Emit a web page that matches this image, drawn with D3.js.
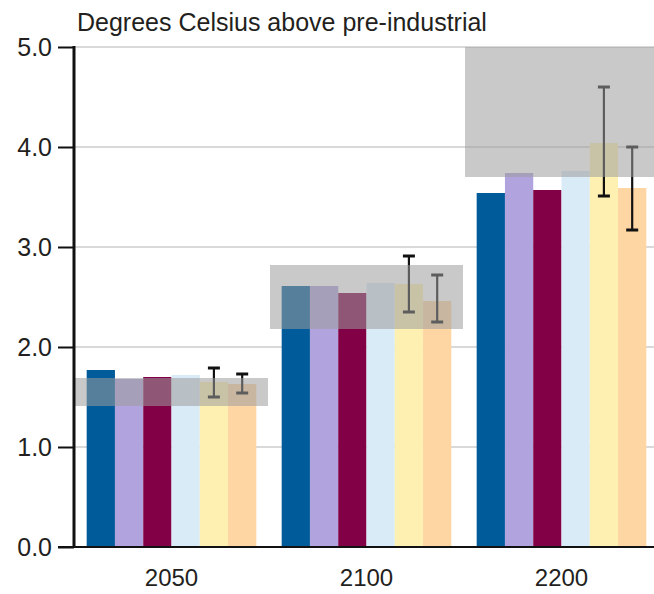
<!DOCTYPE html>
<html>
<head>
<meta charset="utf-8">
<script src="https://cdn.jsdelivr.net/npm/d3@7"></script>
<style>
  body { margin: 0; background: #fff; }
  svg text { font-family: "Liberation Sans", Arial, sans-serif; fill: #231f20; }
</style>
</head>
<body>
<div id="chart"></div>
<script>
// Data
const years = ["2050", "2100", "2200"];
const seriesKeys = ["s1", "s2", "s3", "s4", "s5", "s6"];
const s1 = [1.77, 2.61, 3.54];
const s2 = [1.68, 2.61, 3.74];
const s3 = [1.70, 2.54, 3.57];
const s4 = [1.72, 2.64, 3.76];
const s5 = [1.65, 2.63, 4.04];
const s6 = [1.63, 2.46, 3.59];
const s5Low = [1.50, 2.35, 3.51];
const s5High = [1.79, 2.91, 4.60];
const s6Low = [1.54, 2.25, 3.17];
const s6High = [1.73, 2.72, 4.00];
const rangeLow = [1.41, 2.18, 3.70];
const rangeHigh = [1.69, 2.82, 5.00];
const yTicks = [0, 1, 2, 3, 4, 5];

const colors = {
    s1: "#005b9a", s2: "#b1a3de", s3: "#820046",
    s4: "#d9ebf7", s5: "#fdf0b1", s6: "#fdd6a4"
};

const W = 654, H = 594;
const margin = { top: 47, right: -5, bottom: 47, left: 74 };
const height = H - margin.top - margin.bottom;
const fontSize = "25px";

const svg = d3.select("#chart").append("svg")
    .attr("width", W)
    .attr("height", H);

const x = d3.scaleBand()
    .domain(years)
    .range([margin.left, W - margin.right])
    .paddingInner(0.13)
    .paddingOuter(0.065);

const x1 = d3.scaleBand()
    .domain(seriesKeys)
    .range([0, x.bandwidth()])
    .padding(0);

const y = d3.scaleLinear()
    .domain([0, 5])
    .range([margin.top + height, margin.top]);

const vals = { s1, s2, s3, s4, s5, s6 };

// gridlines
svg.append("g")
    .selectAll("line")
    .data(yTicks.filter(d => d > 0))
    .enter()
    .append("line")
    .attr("x1", margin.left)
    .attr("x2", W)
    .attr("y1", d => y(d))
    .attr("y2", d => y(d))
    .attr("stroke", "#d9d9d9")
    .attr("stroke-width", 2);

// bars
const barData = [];
years.forEach((yr, i) => {
    seriesKeys.forEach(k => barData.push({ year: yr, key: k, value: vals[k][i] }));
});

svg.append("g")
    .selectAll("rect")
    .data(barData)
    .enter()
    .append("rect")
    .attr("x", d => x(d.year) + x1(d.key))
    .attr("y", d => y(d.value))
    .attr("width", x1.bandwidth())
    .attr("height", d => y(0) - y(d.value))
    .attr("fill", d => colors[d.key]);

// error bars
const errData = [];
years.forEach((yr, i) => {
    errData.push({ year: yr, key: "s5", lo: s5Low[i], hi: s5High[i] });
    errData.push({ year: yr, key: "s6", lo: s6Low[i], hi: s6High[i] });
});

const err = svg.append("g")
    .selectAll("g")
    .data(errData)
    .enter()
    .append("g")
    .attr("transform", d => `translate(${x(d.year) + x1(d.key) + x1.bandwidth() / 2},0)`);

err.append("line")
    .attr("y1", d => y(d.lo))
    .attr("y2", d => y(d.hi))
    .attr("stroke", "#111")
    .attr("stroke-width", 2.2);

err.selectAll("line.cap")
    .data(d => [d.lo, d.hi])
    .enter()
    .append("line")
    .attr("class", "cap")
    .attr("x1", -6)
    .attr("x2", 6)
    .attr("y1", v => y(v))
    .attr("y2", v => y(v))
    .attr("stroke", "#111")
    .attr("stroke-width", 3);

// shaded ranges on top
const half = (x.step() - x.bandwidth()) / 2;
svg.append("g")
    .selectAll("rect")
    .data(years)
    .enter()
    .append("rect")
    .attr("x", d => x(d) - half + 1)
    .attr("width", x.step() - 2)
    .attr("y", (d, i) => y(rangeHigh[i]))
    .attr("height", (d, i) => y(rangeLow[i]) - y(rangeHigh[i]))
    .attr("fill", "#9c9d9d")
    .attr("fill-opacity", 0.55);

// y axis
const yAxis = svg.append("g")
    .attr("transform", `translate(${margin.left},0)`)
    .call(d3.axisLeft(y).tickValues(yTicks).tickFormat(d3.format(".1f")).tickSize(16).tickPadding(6));
yAxis.select(".domain").remove();
yAxis.selectAll(".tick line").attr("stroke", "#111").attr("stroke-width", 2);
yAxis.selectAll(".tick text")
    .style("font-size", fontSize)
    .attr("fill", "#231f20");
yAxis.append("line")
    .attr("y1", y(5) - 1)
    .attr("y2", y(0))
    .attr("stroke", "#111")
    .attr("stroke-width", 3);

// x axis
svg.append("line")
    .attr("x1", margin.left - 16)
    .attr("x2", W)
    .attr("y1", y(0))
    .attr("y2", y(0))
    .attr("stroke", "#111")
    .attr("stroke-width", 2);

svg.append("g")
    .selectAll("text")
    .data(years)
    .enter()
    .append("text")
    .attr("x", d => x(d) + x.bandwidth() / 2)
    .attr("y", y(0) + 39)
    .attr("text-anchor", "middle")
    .style("font-size", "24px")
    .text(d => d);

// title
svg.append("text")
    .attr("x", 77)
    .attr("y", 31)
    .style("font-size", fontSize)
    .text("Degrees Celsius above pre-industrial");
</script>
</body>
</html>
